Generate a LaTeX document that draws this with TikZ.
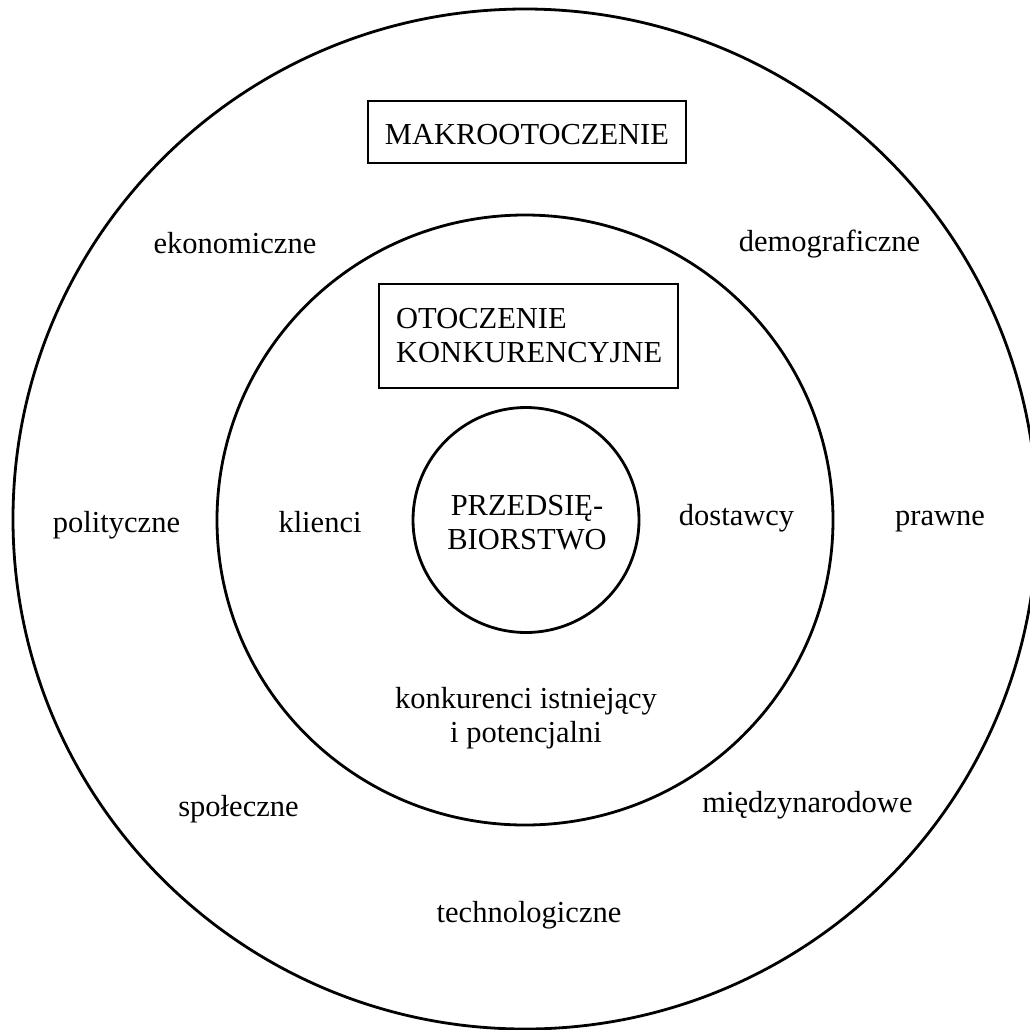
\documentclass[tikz,border=0pt]{standalone}
\usepackage{fontspec}
\setmainfont{Liberation Serif}
\usetikzlibrary{shapes.geometric}
\begin{document}
\begin{tikzpicture}[x=1pt,y=-1pt,
  ring/.style={draw=black, line width=2.8pt, ellipse, inner sep=0pt, outer sep=0pt},
  frame/.style={draw=black, line width=2.2pt, rectangle, inner sep=0pt},
  lbl/.style={font=\fontsize{30.5}{34}\selectfont, anchor=base, inner sep=0pt}]
\useasboundingbox (0,0) rectangle (1030,1029);
% circles
\node[ring, minimum width=1024pt, minimum height=1020pt] (outer) at (525,519) {};
\node[ring, minimum width=616pt, minimum height=610pt] (middle) at (525,520) {};
\node[ring, minimum width=226pt, minimum height=225pt] (inner) at (526,520) {};
% boxes
\node[frame, minimum width=318pt, minimum height=62pt] (makrobox) at (527,132) {};
\node[lbl] (makro) at (527,144) {MAKROOTOCZENIE};
\node[frame, minimum width=299pt, minimum height=104pt] (otbox) at (528.5,336) {};
\node[lbl, anchor=base west] (otocz) at (396,328)
  {\begin{tabular}[t]{@{}l@{}}OTOCZENIE\\KONKURENCYJNE\end{tabular}};
% centre
\node[lbl] (firma) at (527,515)
  {\begin{tabular}[t]{@{}c@{}}PRZEDSIĘ-\\BIORSTWO\end{tabular}};
% competitive environment
\node[lbl] (klienci) at (320,532) {klienci};
\node[lbl] (dostawcy) at (736.5,525) {dostawcy};
\node[lbl] (konk) at (526,708)
  {\begin{tabular}[t]{@{}c@{}}konkurenci istniejący\\i potencjalni\end{tabular}};
% macro environment
\node[lbl] (ekon) at (235,253) {ekonomiczne};
\node[lbl] (demo) at (829.5,251) {demograficzne};
\node[lbl] (polit) at (116.5,532) {polityczne};
\node[lbl] (prawne) at (940,525) {prawne};
\node[lbl] (spol) at (238.5,816) {społeczne};
\node[lbl] (miedzy) at (807.5,812) {międzynarodowe};
\node[lbl] (techno) at (529,922) {technologiczne};
\end{tikzpicture}
\end{document}
